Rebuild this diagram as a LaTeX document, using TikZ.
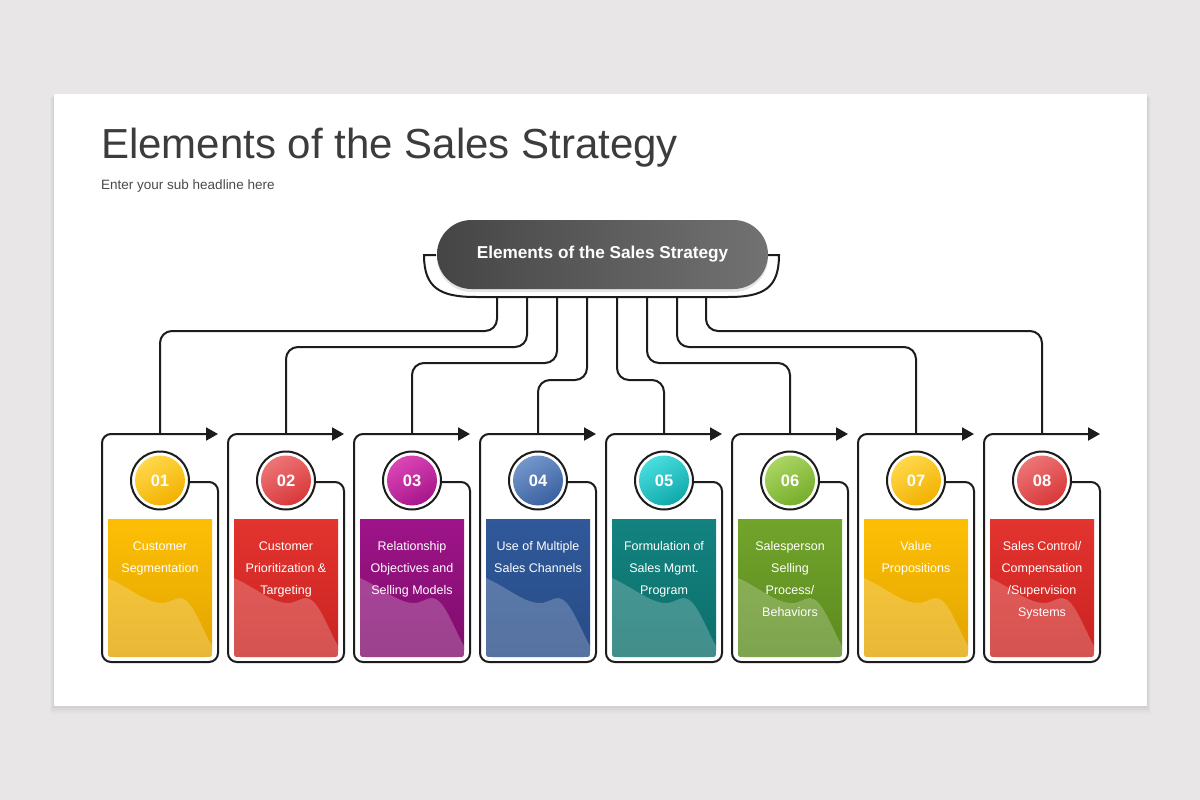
\documentclass[tikz,border=0pt]{standalone}
\usepackage{fontspec}
\setmainfont{Liberation Sans}
\usetikzlibrary{arrows.meta,calc}
\definecolor{bg}{HTML}{E8E6E7}
\definecolor{titlec}{HTML}{3C3C3C}
\definecolor{subc}{HTML}{4A4A4A}
\definecolor{linec}{HTML}{1C1C1C}
\definecolor{hubl}{HTML}{454545}
\definecolor{hubr}{HTML}{727272}
% rect top / bottom, circle light / dark
\definecolor{rt1}{HTML}{FDBF05}\definecolor{rb1}{HTML}{E2A400}\definecolor{ct1}{HTML}{FFD84A}\definecolor{cb1}{HTML}{F2B100}
\definecolor{rt2}{HTML}{E3342F}\definecolor{rb2}{HTML}{C92321}\definecolor{ct2}{HTML}{EC7576}\definecolor{cb2}{HTML}{D9383A}
\definecolor{rt3}{HTML}{9E1489}\definecolor{rb3}{HTML}{7E0C6C}\definecolor{ct3}{HTML}{DB45B6}\definecolor{cb3}{HTML}{A6168A}
\definecolor{rt4}{HTML}{30599A}\definecolor{rb4}{HTML}{274B86}\definecolor{ct4}{HTML}{7396CB}\definecolor{cb4}{HTML}{3A61A0}
\definecolor{rt5}{HTML}{138380}\definecolor{rb5}{HTML}{0D6E6A}\definecolor{ct5}{HTML}{48DEDF}\definecolor{cb5}{HTML}{11A8AA}
\definecolor{rt6}{HTML}{72A42C}\definecolor{rb6}{HTML}{5B8A1E}\definecolor{ct6}{HTML}{AAD562}\definecolor{cb6}{HTML}{76AE2B}
\definecolor{rt7}{HTML}{FDBF05}\definecolor{rb7}{HTML}{E2A400}\definecolor{ct7}{HTML}{FFD84A}\definecolor{cb7}{HTML}{F2B100}
\definecolor{rt8}{HTML}{E3342F}\definecolor{rb8}{HTML}{C92321}\definecolor{ct8}{HTML}{EC7576}\definecolor{cb8}{HTML}{D9383A}
\tikzset{
  conn/.style={draw=linec, line width=2pt, rounded corners=12pt},
  outline/.style={draw=linec, line width=2pt, rounded corners=9pt},
  hubnode/.style={rounded corners=34.5pt, minimum width=331pt, minimum height=69pt,
    left color=hubl, right color=hubr, text=white, inner sep=0,
    font=\bfseries\fontsize{17.2}{21}\selectfont},
  ring/.style={circle, draw=linec, line width=2pt, fill=white, minimum size=58pt, inner sep=0},
  numtext/.style={text=white, font=\bfseries\fontsize{16.5}{20}\selectfont, inner sep=0},
  cardtext/.style={text=white, align=center, inner sep=0,
    font=\fontsize{12.5}{22}\selectfont},
}
\begin{document}
\begin{tikzpicture}[x=1pt,y=-1pt]
\useasboundingbox (0,0) rectangle (1200,800);
\fill[bg] (0,0) rectangle (1200,800);
% card shadow (soft, mostly below)
\foreach \d/\o in {8/0.015,6/0.02,4/0.025,2/0.03}
  \fill[black,opacity=\o] (54-\d/2,94+\d/2) rectangle (1147+\d/2,706+\d);
\fill[white] (54,94) rectangle (1147,706);
% titles
\node[anchor=base west, inner sep=0, text=titlec, font=\fontsize{42}{50}\selectfont] (title) at (101,158) {Elements of the Sales Strategy};
\node[anchor=base west, inner sep=0, text=subc, font=\fontsize{13.5}{16}\selectfont] (sub) at (101,189) {Enter your sub headline here};
% hub
\fill[black,opacity=.10] (437,223) [rounded corners=34.5pt] rectangle (768,292);
\node[hubnode] (hub) at (602.5,254.5) {Elements of the Sales Strategy};
% cup under hub
\coordinate (cupL) at (436,255);
\coordinate (cupR) at (768,255);
\draw[draw=linec, line width=2pt] (cupL) -- (424,255) .. controls (424,288) and (440,297) .. (476,297) -- (728,297) .. controls (764,297) and (779,288) .. (779,255) -- (cupR);
% connectors
\foreach \i/\sx/\hy in {1/497/331, 2/527/347, 3/557/363, 4/587/380, 5/617/380, 6/647/363, 7/677/347, 8/706/331}{
  \pgfmathsetmacro\C{160+126*(\i-1)}
  \coordinate (s\i) at (\sx,297);
  \coordinate (t\i) at (\C,434);
  \draw[conn] (s\i) -- (\sx,\hy) -| (t\i);
}
% boxes
\foreach \i/\txt in {1/{Customer\\Segmentation},
                     2/{Customer\\Prioritization \&\\Targeting},
                     3/{Relationship\\Objectives and\\Selling Models},
                     4/{Use of Multiple\\Sales Channels},
                     5/{Formulation of\\Sales Mgmt.\\Program},
                     6/{Salesperson\\Selling\\Process/\\Behaviors},
                     7/{Value\\Propositions},
                     8/{Sales Control/\\Compensation\\/Supervision\\Systems}}{
  \pgfmathsetmacro\L{102+126*(\i-1)}
  \pgfmathsetmacro\R{\L+116}
  \pgfmathsetmacro\C{\L+58}
  % colored panel
  \shade[top color=rt\i, bottom color=rb\i]
    (\L+6,519) -- (\L+6,651) .. controls (\L+6,657) .. (\L+12,657) -- (\R-12,657)
    .. controls (\R-6,657) .. (\R-6,651) -- (\R-6,519) -- cycle;
  % wave
  \fill[white, opacity=.22]
    (\L+6,578) .. controls (\L+28,588) and (\L+44,603) .. (\L+60,603)
    .. controls (\L+68,603) and (\L+72,598) .. (\L+78,598)
    .. controls (\L+90,599) and (\L+97,622) .. (\R-6,646)
    -- (\R-6,651) .. controls (\R-6,657) .. (\R-12,657) -- (\L+12,657)
    .. controls (\L+6,657) .. (\L+6,651) -- cycle;
  % outline with arrow
  \draw[outline, -{Triangle[length=12pt,width=13pt]}]
    (\C+28,482) -- (\R,482) -- (\R,662) -- (\L,662) -- (\L,434) -- (\R,434);
  % number circle
  \node[ring] (c\i) at (\C,480.5) {};
  \shade[top color=ct\i, bottom color=cb\i, shading angle=30] (c\i.center) circle[radius=25pt];
  \node[numtext] (n\i) at (c\i.center) {0\i};
  % text
  \node[cardtext, anchor=north] (x\i) at (\C,541.5) {\txt};
}
\end{tikzpicture}
\end{document}
